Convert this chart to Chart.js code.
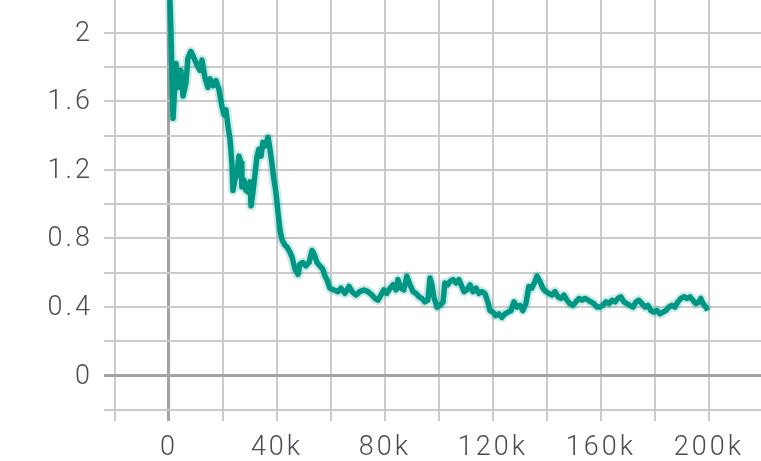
<!DOCTYPE html>
<html>
<head>
<meta charset="utf-8">
<script src="https://cdn.jsdelivr.net/npm/chart.js@4"></script>
<style>
  html, body { margin: 0; padding: 0; background: #ffffff; }
  #wrap { width: 761px; height: 461px; position: relative; }
</style>
</head>
<body>
<div id="wrap"><canvas id="c"></canvas></div>
<script>
// Training steps (in thousands)
const stepsK = [
  0, 0.7, 1.5, 2.6, 3.3, 4.4, 5.2, 6.3, 7.0, 8.1, 9.3, 10.4, 11.5, 12.2, 13.3, 14.4, 15.2, 16.3, 17.4, 18.5,
  19.6, 20.4, 21.1, 21.9, 22.6, 23.3, 23.7, 24.4, 25.2, 25.9, 26.7, 27.0, 27.8, 28.5, 29.3, 30.0, 30.4, 31.1, 31.9, 32.6,
  33.3, 34.1, 34.8, 35.6, 36.7, 37.4, 38.1, 38.9, 39.6, 40.4, 41.1, 41.9, 43.0, 43.7, 44.8, 45.6, 46.7, 47.8, 48.5, 49.6,
  50.7, 51.9, 53.0, 53.7, 54.8, 55.9, 57.0, 57.8, 58.5, 59.6, 61.1, 62.6, 63.7, 65.2, 66.7, 67.8, 69.3, 70.7, 72.2, 73.7,
  75.2, 76.3, 77.4, 78.5, 79.6, 80.7, 81.9, 83.0, 84.1, 84.8, 85.9, 87.0, 88.1, 89.3, 90.4, 91.5, 92.6, 93.7, 94.8, 95.9,
  96.7, 97.4, 98.1, 99.3, 100.4, 101.5, 102.2, 103.3, 104.1, 105.2, 106.3, 107.4, 108.5, 109.3, 110.4, 111.5, 112.6, 113.7, 114.8, 115.9,
  117.0, 118.1, 118.9, 120.0, 121.1, 122.2, 123.3, 124.4, 125.6, 126.7, 127.8, 128.9, 130.0, 131.1, 132.2, 133.3, 134.4, 135.6, 136.3, 137.4,
  138.5, 139.6, 140.7, 141.9, 143.0, 144.1, 145.2, 146.3, 147.4, 148.5, 149.6, 150.7, 151.9, 153.0, 154.1, 155.2, 156.3, 157.4, 158.5, 159.6,
  160.7, 161.9, 163.0, 164.1, 165.2, 166.3, 167.4, 168.5, 169.6, 170.7, 171.9, 173.0, 174.1, 175.2, 176.3, 177.4, 178.5, 179.6, 180.7, 181.9,
  183.0, 184.1, 185.2, 186.3, 187.4, 188.5, 189.6, 190.7, 191.9, 193.0, 194.1, 195.2, 196.3, 197.0, 197.8, 198.9, 199.6
];
// Loss values
const lossValues = [
  2.35, 2.02, 1.50, 1.82, 1.68, 1.78, 1.63, 1.71, 1.85, 1.89, 1.85, 1.81, 1.78, 1.84, 1.74, 1.68, 1.73, 1.69, 1.72, 1.67,
  1.57, 1.52, 1.55, 1.45, 1.38, 1.24, 1.08, 1.14, 1.18, 1.28, 1.24, 1.10, 1.14, 1.08, 1.07, 1.13, 0.99, 1.07, 1.18, 1.28,
  1.32, 1.28, 1.36, 1.34, 1.39, 1.32, 1.24, 1.14, 1.07, 0.95, 0.85, 0.79, 0.76, 0.75, 0.72, 0.69, 0.62, 0.59, 0.65, 0.66,
  0.64, 0.66, 0.73, 0.71, 0.66, 0.64, 0.62, 0.58, 0.56, 0.51, 0.50, 0.49, 0.51, 0.48, 0.52, 0.49, 0.47, 0.49, 0.50, 0.49,
  0.47, 0.45, 0.44, 0.47, 0.50, 0.48, 0.51, 0.53, 0.50, 0.56, 0.51, 0.50, 0.58, 0.53, 0.49, 0.48, 0.46, 0.45, 0.43, 0.44,
  0.57, 0.53, 0.46, 0.40, 0.41, 0.43, 0.54, 0.53, 0.55, 0.56, 0.54, 0.56, 0.52, 0.49, 0.50, 0.53, 0.49, 0.51, 0.48, 0.49,
  0.48, 0.43, 0.38, 0.37, 0.35, 0.36, 0.34, 0.36, 0.37, 0.38, 0.43, 0.40, 0.41, 0.38, 0.42, 0.52, 0.51, 0.55, 0.58, 0.55,
  0.51, 0.49, 0.48, 0.47, 0.49, 0.46, 0.45, 0.47, 0.44, 0.42, 0.41, 0.43, 0.45, 0.44, 0.45, 0.44, 0.43, 0.42, 0.40, 0.40,
  0.41, 0.43, 0.42, 0.44, 0.43, 0.45, 0.46, 0.43, 0.42, 0.41, 0.40, 0.43, 0.44, 0.42, 0.40, 0.41, 0.38, 0.37, 0.38, 0.36,
  0.37, 0.38, 0.40, 0.41, 0.40, 0.43, 0.45, 0.46, 0.45, 0.46, 0.44, 0.42, 0.43, 0.45, 0.42, 0.40, 0.38
];
// Axis ticks (grid lines) and which of them carry labels
const xTickValues = [-20000, 0, 20000, 40000, 60000, 80000, 100000, 120000, 140000, 160000, 180000, 200000];
const xTickLabels = ['', '0', '', '40k', '', '80k', '', '120k', '', '160k', '', '200k'];
const yTickValues = [-0.2, 0, 0.2, 0.4, 0.6, 0.8, 1.0, 1.2, 1.4, 1.6, 1.8, 2.0];
const yTickLabels = ['', '0', '', '0.4', '', '0.8', '', '1.2', '', '1.6', '', '2'];

const points = stepsK.map((s, i) => ({ x: s * 1000, y: lossValues[i] }));

const textColor = '#4a4a55';
const gridColor = '#cbcbcb';
const zeroColor = '#a3a3a3';
const tickFont = { family: "'Roboto Light', Roboto, sans-serif", size: 27, weight: 300 };

const letterSpacingPlugin = {
  id: 'letterSpacing',
  beforeDraw(chart) { chart.ctx.letterSpacing = '3px'; }
};

function isZero(c) { return c.tick && Math.abs(c.tick.value) < 1e-9; }

new Chart(document.getElementById('c'), {
  type: 'line',
  data: {
    datasets: [
      {
        data: points,
        borderColor: '#009684',
        borderWidth: 5.5,
        pointRadius: 0,
        tension: 0,
        borderJoinStyle: 'round',
        order: 1
      },
      {
        data: points,
        borderColor: 'rgba(0,150,136,0.2)',
        borderWidth: 10,
        pointRadius: 0,
        tension: 0,
        borderJoinStyle: 'round',
        order: 2
      }
    ]
  },
  options: {
    responsive: true,
    maintainAspectRatio: false,
    animation: false,
    layout: { padding: 0 },
    plugins: { legend: { display: false }, tooltip: { enabled: false } },
    scales: {
      x: {
        type: 'linear',
        min: -20000,
        max: 219300,
        afterBuildTicks(scale) { scale.ticks = xTickValues.map(v => ({ value: v })); },
        afterFit(scale) {
          scale.height = 51;
          scale.paddingLeft = 0; scale.paddingRight = 0;
          scale.paddingTop = 0; scale.paddingBottom = 0;
        },
        ticks: {
          autoSkip: false,
          maxRotation: 0,
          padding: 10,
          color: textColor,
          font: tickFont,
          callback(v) {
            const i = xTickValues.indexOf(v);
            return i >= 0 ? xTickLabels[i] : '';
          }
        },
        grid: {
          drawTicks: true,
          tickLength: 11,
          color: (c) => isZero(c) ? zeroColor : gridColor,
          lineWidth: (c) => isZero(c) ? 3 : 2
        },
        border: { display: false }
      },
      y: {
        type: 'linear',
        min: -0.2,
        max: 2.19,
        afterBuildTicks(scale) { scale.ticks = yTickValues.map(v => ({ value: v })); },
        afterFit(scale) {
          scale.width = 115;
          scale.paddingLeft = 0; scale.paddingRight = 0;
          scale.paddingTop = 0; scale.paddingBottom = 0;
        },
        ticks: {
          autoSkip: false,
          padding: 11,
          color: textColor,
          font: tickFont,
          callback(v) {
            const i = yTickValues.findIndex(t => Math.abs(t - v) < 1e-9);
            return i >= 0 ? yTickLabels[i] : '';
          }
        },
        grid: {
          drawTicks: true,
          tickLength: 11,
          color: (c) => isZero(c) ? zeroColor : gridColor,
          lineWidth: (c) => isZero(c) ? 3 : 2
        },
        border: { display: false }
      }
    }
  },
  plugins: [letterSpacingPlugin]
});
</script>
</body>
</html>
